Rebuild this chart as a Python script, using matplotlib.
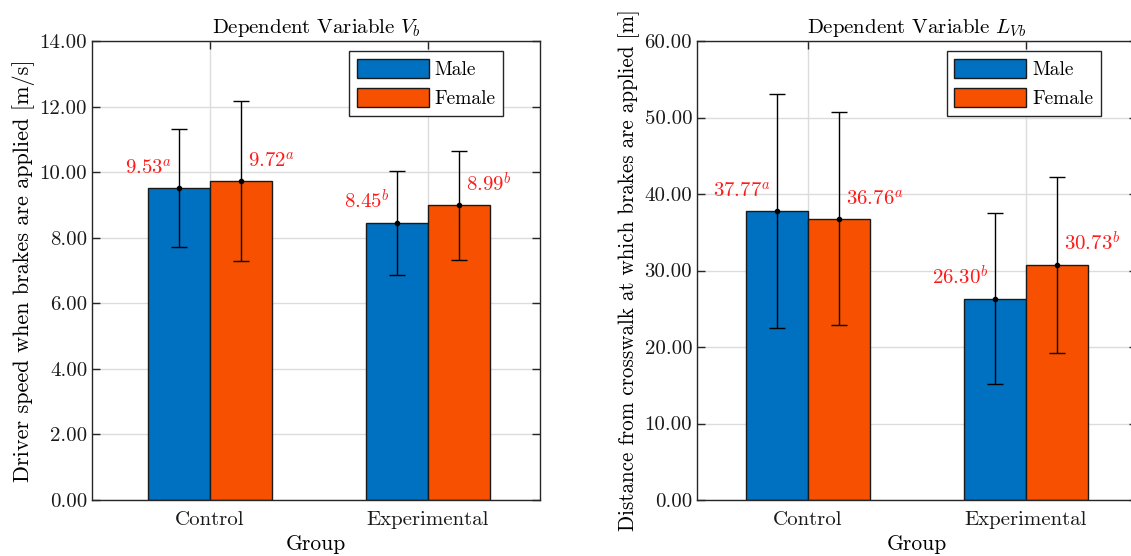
import matplotlib
matplotlib.use('Agg')
import matplotlib.pyplot as plt
import numpy as np

plt.rcParams['font.family'] = 'cmr10'
plt.rcParams['mathtext.fontset'] = 'cm'
plt.rcParams['axes.formatter.use_mathtext'] = True

groups = ['Control', 'Experimental']
sexes = ['Male', 'Female']

# speed when brakes are applied [m/s]
vb_male = [9.53, 8.45]
vb_female = [9.72, 8.99]
vb_male_sd = [1.80, 1.58]
vb_female_sd = [2.44, 1.67]
vb_letters = ['a', 'b']

# distance from crosswalk [m]
lvb_male = [37.77, 26.30]
lvb_female = [36.76, 30.73]
lvb_male_sd = [15.3, 11.2]
lvb_female_sd = [13.9, 11.5]
lvb_letters = ['a', 'b']

colors = ['#0070C0', '#F75000']
axis_col = '#262626'

fig = plt.figure(figsize=(11.31, 5.56), dpi=100)
ax1 = fig.add_axes([92 / 1131, 56 / 556, 448 / 1131, 459 / 556])
ax2 = fig.add_axes([697 / 1131, 56 / 556, 440 / 1131, 459 / 556])


def draw(ax, male, female, male_sd, female_sd, letters, ymax, ystep, title,
         ylabel, ylabel_size, xlim):
    x = np.arange(1, len(groups) + 1)
    w = 0.284
    for vals, sds, off, c, lab in [(male, male_sd, -w / 2, colors[0], sexes[0]),
                                   (female, female_sd, w / 2, colors[1], sexes[1])]:
        ax.bar(x + off, vals, width=w, color=c, edgecolor='#1a1a1a',
               linewidth=1.0, label=lab, zorder=2)
        ax.errorbar(x + off, vals, yerr=sds, fmt='o', color='black',
                    markersize=3, elinewidth=1.0, capsize=5.5, capthick=1.0,
                    zorder=3)
    for i in range(len(groups)):
        ax.annotate(f'${male[i]:.2f}^{{{letters[i]}}}$', (x[i] - w / 2, male[i]),
                    xytext=(-5, 7), textcoords='offset points', ha='right',
                    va='bottom', color='#FF1A1A', fontsize=15)
        ax.annotate(f'${female[i]:.2f}^{{{letters[i]}}}$', (x[i] + w / 2, female[i]),
                    xytext=(5, 7), textcoords='offset points', ha='left',
                    va='bottom', color='#FF1A1A', fontsize=15)

    ax.set_xlim(*xlim)
    ax.set_ylim(0, ymax)
    ax.set_xticks(x)
    ax.set_xticklabels(groups)
    ax.set_yticks(np.arange(0, ymax + ystep / 2, ystep))
    ax.yaxis.set_major_formatter(matplotlib.ticker.FormatStrFormatter('%.2f'))
    ax.tick_params(direction='in', length=6, width=1.0, labelsize=15,
                   top=True, right=True, colors=axis_col, labelcolor='#1a1a1a')
    ax.tick_params(axis='x', pad=8)
    ax.grid(True, color='#dcdcdc', linewidth=1.0, zorder=0)
    ax.set_axisbelow(True)
    for s in ax.spines.values():
        s.set_color(axis_col)
        s.set_linewidth(1.0)
    ax.set_title(title, fontsize=15, pad=6)
    ax.set_xlabel('Group', fontsize=15.5, labelpad=4)
    ax.set_ylabel(ylabel, fontsize=ylabel_size, labelpad=3)
    leg = ax.legend(loc='upper right', bbox_to_anchor=(0.918, 0.978), fontsize=14,
                    handlelength=3.7, handleheight=1.15, fancybox=False,
                    framealpha=1, edgecolor=axis_col, borderpad=0.4,
                    labelspacing=0.45, handletextpad=0.3, borderaxespad=0)
    leg.get_frame().set_linewidth(1.0)


draw(ax1, vb_male, vb_female, vb_male_sd, vb_female_sd, vb_letters, 14, 2,
     'Dependent Variable $V_b$', 'Driver speed when brakes are applied [m/s]',
     16, (0.46, 2.515))
draw(ax2, lvb_male, lvb_female, lvb_male_sd, lvb_female_sd, lvb_letters, 60, 10,
     'Dependent Variable $L_{Vb}$',
     'Distance from crosswalk at which brakes are applied [m]',
     15.2, (0.49, 2.51))

fig.savefig('out.png', dpi=100)
